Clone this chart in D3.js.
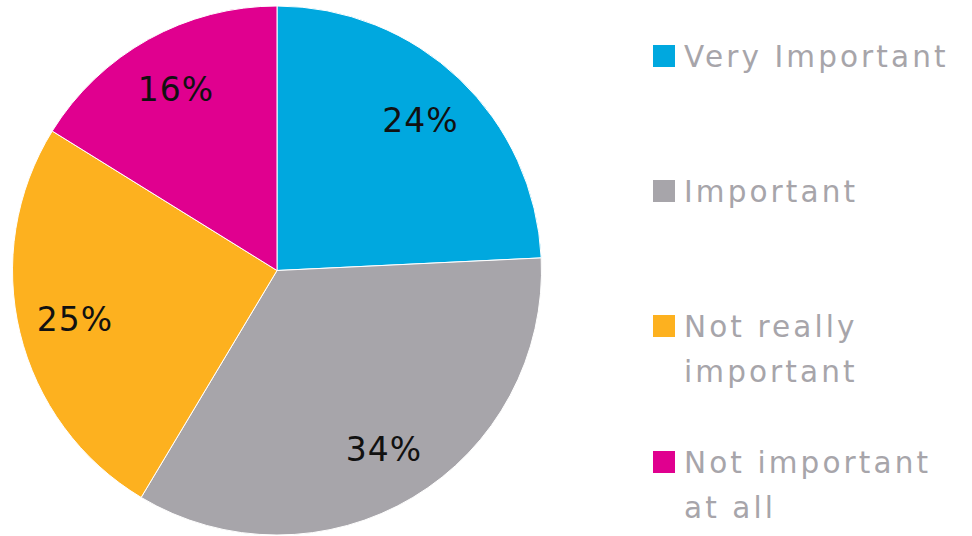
<!DOCTYPE html>
<html>
<head>
<meta charset="utf-8">
<script src="https://cdn.jsdelivr.net/npm/d3@7"></script>
<style>
  html, body { margin: 0; padding: 0; background: #ffffff; }
  svg { display: block; }
</style>
</head>
<body>
<svg id="chart" width="972" height="536"></svg>
<script>
// Survey shares, clockwise from 12 o'clock
const categories = ["Very Important", "Important", "Not really important", "Not important at all"];
const values = [24, 34, 25, 16];
const colors = ["#00a8df", "#a7a5aa", "#fdb11f", "#e0008f"];
// Legend lines (wrapped the way they are shown)
const legendLines = [["Very Important"], ["Important"], ["Not really", "important"], ["Not important", "at all"]];

const svg = d3.select("#chart");
const cx = 277, cy = 270.5, radius = 264.5;
const font = "'DejaVu Sans', sans-serif";

const pie = d3.pie().value(d => d).sort(null);
const arcs = pie(values);
const arc = d3.arc().innerRadius(0).outerRadius(radius);
const labelArc = d3.arc().innerRadius(208).outerRadius(208);

const g = svg.append("g").attr("transform", `translate(${cx},${cy})`);

g.selectAll("path.slice")
  .data(arcs)
  .join("path")
  .attr("class", "slice")
  .attr("d", arc)
  .attr("fill", (d, i) => colors[i])
  .attr("stroke", "#ffffff")
  .attr("stroke-width", 1);

g.selectAll("text.pct")
  .data(arcs)
  .join("text")
  .attr("class", "pct")
  .attr("transform", d => `translate(${labelArc.centroid(d)})`)
  .attr("text-anchor", "middle")
  .attr("dy", "0.36em")
  .attr("font-family", font)
  .attr("font-size", 33)
  .attr("letter-spacing", 1)
  .attr("fill", "#111111")
  .text(d => d.data + "%");

// Legend
const legend = svg.append("g").attr("transform", "translate(653,0)");
const baselines = [67, 202, 337, 473];
const lineHeight = 45;

const items = legend.selectAll("g.item")
  .data(categories)
  .join("g")
  .attr("class", "item")
  .attr("transform", (d, i) => `translate(0,${baselines[i]})`);

items.append("rect")
  .attr("x", 0)
  .attr("y", -22)
  .attr("width", 22)
  .attr("height", 22)
  .attr("fill", (d, i) => colors[i]);

items.append("text")
  .attr("font-family", font)
  .attr("font-size", 29.5)
  .attr("letter-spacing", 3.1)
  .attr("fill", "#a7a5aa")
  .selectAll("tspan")
  .data((d, i) => legendLines[i])
  .join("tspan")
  .attr("x", 31)
  .attr("dy", (d, j) => j === 0 ? 0 : lineHeight)
  .text(d => d);
</script>
</body>
</html>
